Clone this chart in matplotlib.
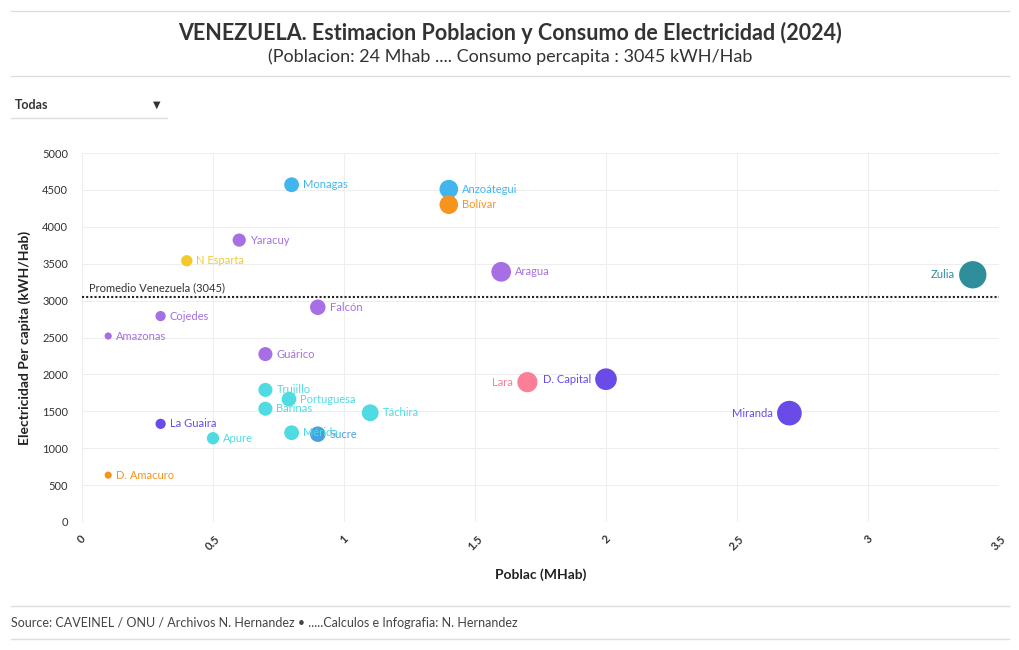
import matplotlib.pyplot as plt
import numpy as np

plt.rcParams['font.family'] = ['Lato', 'DejaVu Sans']

# data
estados = ['Monagas', 'Anzoátegui', 'Bolívar', 'Yaracuy', 'N Esparta', 'Aragua', 'Zulia',
           'Falcón', 'Cojedes', 'Amazonas', 'Guárico', 'Lara', 'D. Capital', 'Miranda',
           'Trujillo', 'Portuguesa', 'Barinas', 'Táchira', 'La Guaira', 'Sucre', 'Mérida',
           'Apure', 'D. Amacuro']
poblacion = [0.80, 1.40, 1.40, 0.60, 0.40, 1.60, 3.40,
             0.90, 0.30, 0.10, 0.70, 1.70, 2.00, 2.70,
             0.70, 0.79, 0.70, 1.10, 0.30, 0.90, 0.80,
             0.50, 0.10]
consumo = [4570, 4510, 4300, 3820, 3540, 3390, 3350,
           2910, 2790, 2520, 2275, 1895, 1935, 1475,
           1790, 1665, 1535, 1480, 1330, 1190, 1210,
           1135, 635]
colores = ['#41b6ee', '#41b6ee', '#f7941e', '#a66fe3', '#f6c92a', '#a66fe3', '#2e8e9c',
           '#a66fe3', '#a66fe3', '#a66fe3', '#a66fe3', '#fb7f97', '#6a4be8', '#6a4be8',
           '#4fdbe2', '#4fdbe2', '#4fdbe2', '#4fdbe2', '#6a4be8', '#4a9fe0', '#4fdbe2',
           '#4fdbe2', '#f7941e']
etiqueta_izq = ['Zulia', 'Lara', 'D. Capital', 'Miranda']
promedio = 3045

fig = plt.figure(figsize=(10.2, 6.5), dpi=100)
ax = fig.add_axes([82/1020, 1-522/650, (999-82)/1020, (522-153)/650])

pob = np.array(poblacion)
radio_px = 1.5 + 6.6*np.sqrt(pob)
s = (2*radio_px*0.72)**2
ax.scatter(poblacion, consumo, s=s, c=colores, zorder=3, linewidths=0)

for nom, x, y, c, r in zip(estados, poblacion, consumo, colores, radio_px):
    off = (r + 4)*0.72
    if nom in etiqueta_izq:
        ax.annotate(nom, (x, y), xytext=(-off, 0), textcoords='offset points',
                    ha='right', va='center', fontsize=8, color=c, zorder=4)
    else:
        ax.annotate(nom, (x, y), xytext=(off, 0), textcoords='offset points',
                    ha='left', va='center', fontsize=8, color=c, zorder=4)

ax.axhline(promedio, color='#222222', ls=(0, (1, 1)), lw=1.5, zorder=2)
ax.text(0.025, promedio + 60, 'Promedio Venezuela (3045)', fontsize=8, color='#333333',
        va='bottom', ha='left')

ax.set_xlim(0, 3.5)
ax.set_ylim(0, 5000)
ax.set_xticks(np.arange(0, 3.6, 0.5))
ax.set_xticklabels(['0', '0.5', '1', '1.5', '2', '2.5', '3', '3.5'], rotation=45,
                   fontsize=8, color='#333333', fontweight='bold')
ax.set_yticks(np.arange(0, 5001, 500))
ax.tick_params(axis='y', labelsize=8, colors='#333333', length=0, pad=10)
ax.tick_params(axis='x', length=0, pad=8)
ax.grid(True, color='#eeeeee', lw=0.8, zorder=0)
for sp in ax.spines.values():
    sp.set_visible(False)
ax.set_xlabel('Poblac (MHab)', fontsize=10, fontweight='bold', color='#222222', labelpad=12)
ax.set_ylabel('Electricidad Per capita (kWH/Hab)', fontsize=10, fontweight='bold',
              color='#222222', labelpad=8)

# title block
fig.text(0.5, 1-33/650, 'VENEZUELA. Estimacion Poblacion y Consumo de Electricidad (2024)',
         ha='center', va='center', fontsize=15.5, fontweight='bold', color='#333333')
fig.text(0.5, 1-57/650, '(Poblacion: 24 Mhab .... Consumo percapita : 3045 kWH/Hab',
         ha='center', va='center', fontsize=13, color='#333333')
fig.text(15/1020, 1-105/650, 'Todas', ha='left', va='center', fontsize=9,
         fontweight='bold', color='#333333')
fig.text(157/1020, 1-105/650, '▼', ha='center', va='center', fontsize=7, color='#333333',
         family='DejaVu Sans')
fig.text(11/1020, 1-623/650,
         'Source: CAVEINEL / ONU / Archivos N. Hernandez • .....Calculos e Infografia: N. Hernandez',
         ha='left', va='center', fontsize=9, color='#444444')

for yy, x0, x1 in [(11, 11, 1009), (76, 11, 1009), (118, 11, 167), (606, 11, 1009), (639, 11, 1009)]:
    fig.add_artist(plt.Line2D([x0/1020, x1/1020], [1-yy/650, 1-yy/650], color='#dddddd', lw=1))

fig.savefig('out.png', dpi=100)
